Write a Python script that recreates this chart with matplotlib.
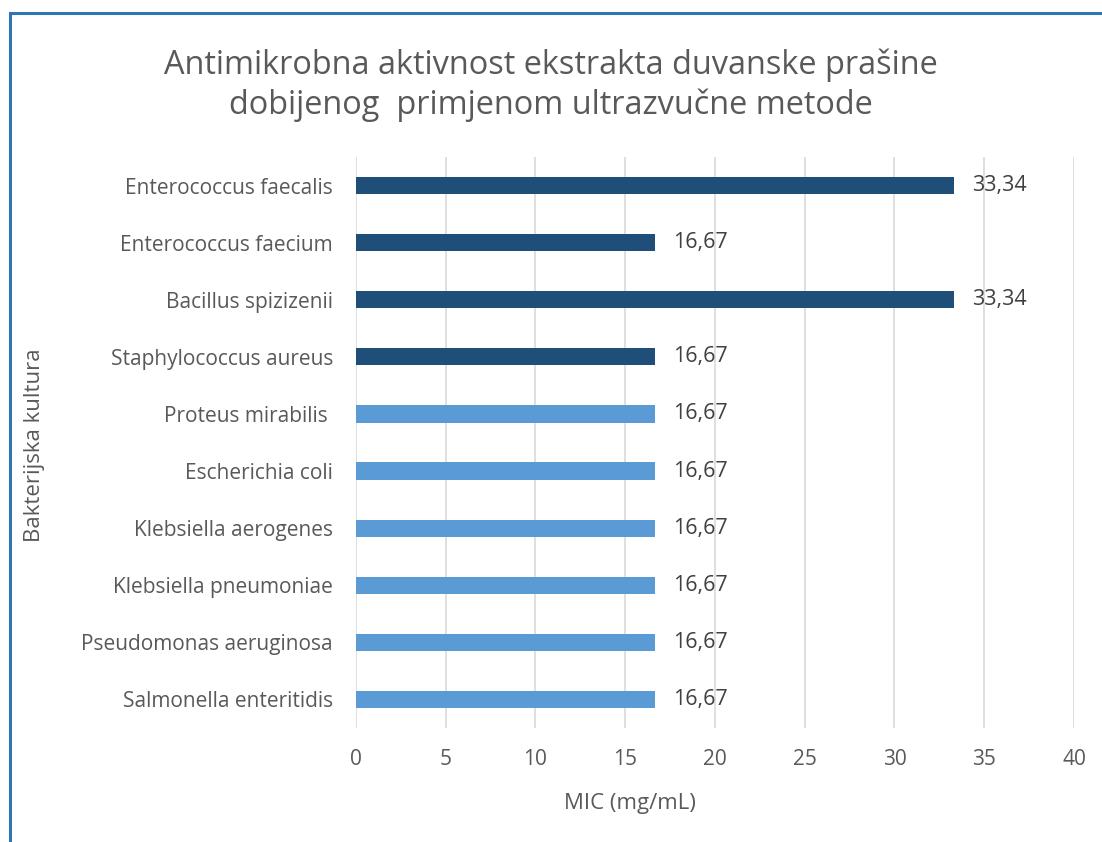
import matplotlib
matplotlib.use("Agg")
import matplotlib.pyplot as plt
from matplotlib.patches import Rectangle

plt.rcParams['font.family'] = ['Open Sans', 'DejaVu Sans']

# data (top to bottom as in the chart)
cultures = ["Enterococcus faecalis", "Enterococcus faecium", "Bacillus spizizenii",
            "Staphylococcus aureus", "Proteus mirabilis ", "Escherichia coli",
            "Klebsiella aerogenes", "Klebsiella pneumoniae", "Pseudomonas aeruginosa",
            "Salmonella enteritidis"]
mic = [33.34, 16.67, 33.34, 16.67, 16.67, 16.67, 16.67, 16.67, 16.67, 16.67]
gram_positive = [True, True, True, True, False, False, False, False, False, False]
xticks = [0, 5, 10, 15, 20, 25, 30, 35, 40]

dark = '#1F4E79'
light = '#5B9BD5'
txt = '#595959'

fig = plt.figure(figsize=(11.02, 8.42), dpi=100)
ax = fig.add_axes([0.323, 0.1354, 0.6516, 0.6781])

ypos = list(range(len(cultures)))[::-1]
colors = [dark if g else light for g in gram_positive]
ax.barh(ypos, mic, height=0.3, color=colors, zorder=3)

for y, v in zip(ypos, mic):
    ax.text(v + 1.0, y, f"{v:.2f}".replace('.', ','), va='center', ha='left',
            fontsize=15.5, color='#404040')

ax.set_xlim(0, 40)
ax.set_ylim(-0.5, len(cultures) - 0.5)
ax.set_xticks(xticks)
ax.set_yticks(ypos)
ax.set_yticklabels(cultures)
ax.tick_params(axis='both', length=0, labelsize=15, labelcolor=txt)
ax.tick_params(axis='x', pad=15)
ax.tick_params(axis='y', pad=16.5)
ax.grid(axis='x', color='#D9D9D9', linewidth=1.2, zorder=0)
for s in ax.spines.values():
    s.set_visible(False)

fig.text(630 / 1102, 1 - 803 / 842, "MIC (mg/mL)", fontsize=16, color=txt,
         ha='center', va='center')
fig.text(35 / 1102, 1 - 445 / 842, "Bakterijska kultura", rotation=90, fontsize=16,
         color=txt, ha='center', va='center')

fig.text(551 / 1102, 1 - 85 / 842,
         "Antimikrobna aktivnost ekstrakta duvanske prašine\ndobijenog  primjenom ultrazvučne metode",
         ha='center', va='center', fontsize=23.4, color=txt, linespacing=1.27)

# chart border (left and top visible)
fig.add_artist(Rectangle((9.5 / 1102, -0.1), 1.2, 0.1 + 1 - 12.5 / 842,
                         transform=fig.transFigure, fill=False,
                         edgecolor='#2E75B6', linewidth=2.2))

fig.savefig("out.png", dpi=100)
